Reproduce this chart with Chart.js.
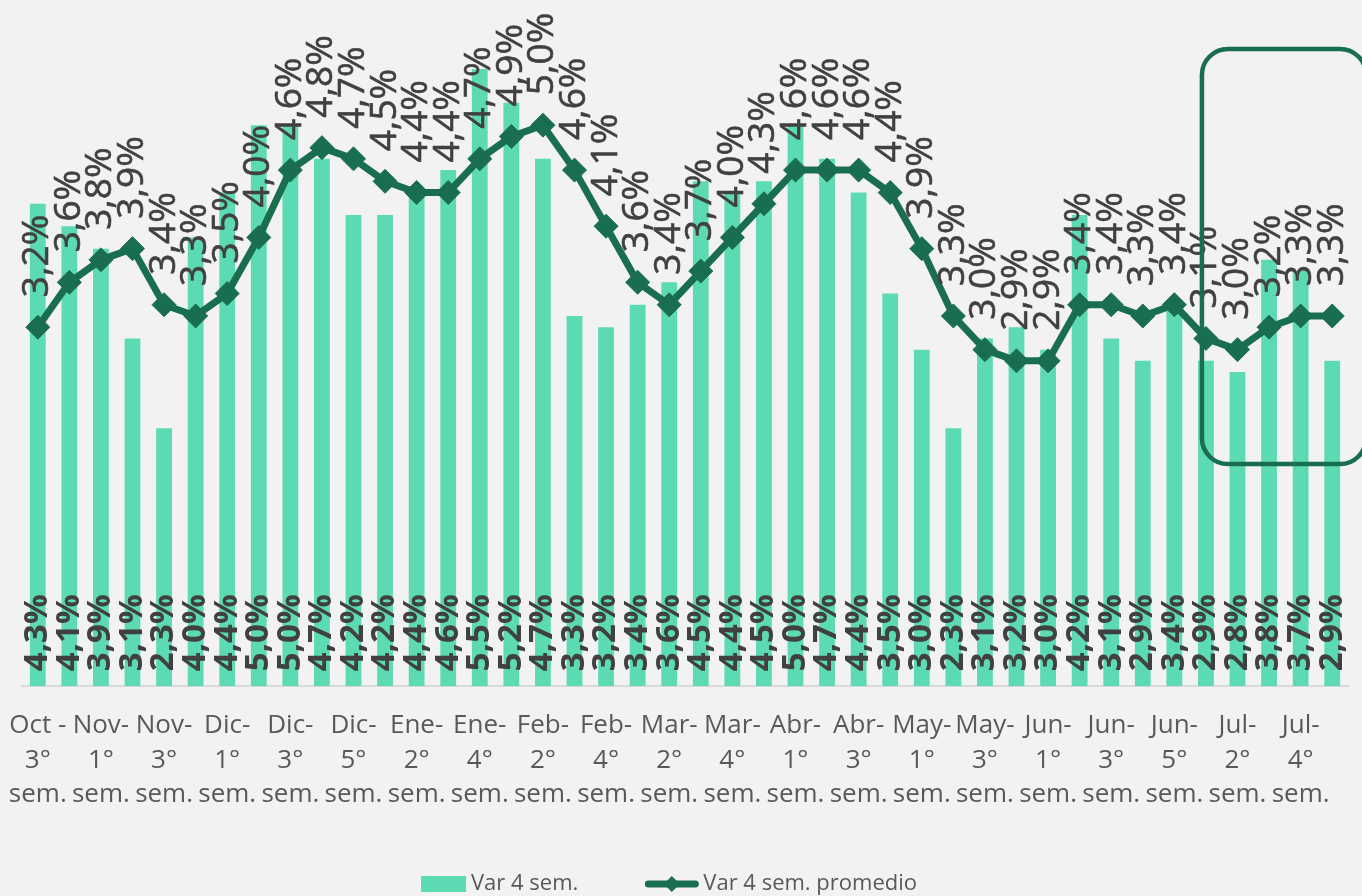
<!DOCTYPE html>
<html>
<head>
<meta charset="utf-8">
<script src="https://cdn.jsdelivr.net/npm/chart.js@4.4.1/dist/chart.umd.min.js"></script>
<style>
    html, body { margin: 0; padding: 0; background: #f2f2f2; }
    #wrap { width: 1362px; height: 896px; position: relative; }
</style>
</head>
<body>
<div id="wrap"><canvas id="chart"></canvas></div>
<script>
// weeks shown on the x axis (month, week, "sem.")
const categories = [
    ['Oct -', '3°', 'sem.'], ['Oct-', '4°', 'sem.'],
    ['Nov-', '1°', 'sem.'], ['Nov-', '2°', 'sem.'], ['Nov-', '3°', 'sem.'], ['Nov-', '4°', 'sem.'],
    ['Dic-', '1°', 'sem.'], ['Dic-', '2°', 'sem.'], ['Dic-', '3°', 'sem.'], ['Dic-', '4°', 'sem.'], ['Dic-', '5°', 'sem.'],
    ['Ene-', '1°', 'sem.'], ['Ene-', '2°', 'sem.'], ['Ene-', '3°', 'sem.'], ['Ene-', '4°', 'sem.'],
    ['Feb-', '1°', 'sem.'], ['Feb-', '2°', 'sem.'], ['Feb-', '3°', 'sem.'], ['Feb-', '4°', 'sem.'],
    ['Mar-', '1°', 'sem.'], ['Mar-', '2°', 'sem.'], ['Mar-', '3°', 'sem.'], ['Mar-', '4°', 'sem.'], ['Mar-', '5°', 'sem.'],
    ['Abr-', '1°', 'sem.'], ['Abr-', '2°', 'sem.'], ['Abr-', '3°', 'sem.'], ['Abr-', '4°', 'sem.'],
    ['May-', '1°', 'sem.'], ['May-', '2°', 'sem.'], ['May-', '3°', 'sem.'], ['May-', '4°', 'sem.'],
    ['Jun-', '1°', 'sem.'], ['Jun-', '2°', 'sem.'], ['Jun-', '3°', 'sem.'], ['Jun-', '4°', 'sem.'], ['Jun-', '5°', 'sem.'],
    ['Jul-', '1°', 'sem.'], ['Jul-', '2°', 'sem.'], ['Jul-', '3°', 'sem.'], ['Jul-', '4°', 'sem.'], ['Jul-', '5°', 'sem.']
];

// Var 4 sem. (bars)
const var4Sem = [4.3, 4.1, 3.9, 3.1, 2.3, 4.0, 4.4, 5.0, 5.0, 4.7, 4.2, 4.2, 4.4, 4.6, 5.5, 5.2, 4.7, 3.3, 3.2, 3.4, 3.6,
                 4.5, 4.4, 4.5, 5.0, 4.7, 4.4, 3.5, 3.0, 2.3, 3.1, 3.2, 3.0, 4.2, 3.1, 2.9, 3.4, 2.9, 2.8, 3.8, 3.7, 2.9];

// Var 4 sem. promedio (line)
const var4SemPromedio = [3.2, 3.6, 3.8, 3.9, 3.4, 3.3, 3.5, 4.0, 4.6, 4.8, 4.7, 4.5, 4.4, 4.4, 4.7, 4.9, 5.0, 4.6, 4.1, 3.6, 3.4,
                         3.7, 4.0, 4.3, 4.6, 4.6, 4.6, 4.4, 3.9, 3.3, 3.0, 2.9, 2.9, 3.4, 3.4, 3.3, 3.4, 3.1, 3.0, 3.2, 3.3, 3.3];

const seriesNames = ['Var 4 sem.', 'Var 4 sem. promedio'];

// highlighted last weeks (first index and value range of the box)
const highlightFrom = 37;
const highlightRange = [1.98, 5.68];

const barColor = '#5cdab3';
const lineColor = '#1a6e50';
const labelColor = '#404040';

function fmtPct(v) {
    return v.toFixed(1).replace('.', ',') + '%';
}

const valueLabels = {
    id: 'valueLabels',
    afterDatasetsDraw(chart) {
        const ctx = chart.ctx;
        const barMeta = chart.getDatasetMeta(0);
        const lineMeta = chart.getDatasetMeta(1);
        ctx.save();
        ctx.fillStyle = labelColor;
        ctx.strokeStyle = labelColor;
        ctx.textAlign = 'left';
        ctx.textBaseline = 'middle';

        // bar labels, inside base
        ctx.font = 'bold 33px "Open Sans"';
        barMeta.data.forEach((bar, i) => {
            ctx.save();
            ctx.translate(bar.x, bar.base - 15);
            ctx.rotate(-Math.PI / 2);
            ctx.fillText(fmtPct(var4Sem[i]), 0, 0);
            ctx.restore();
        });

        // line labels, above the points
        ctx.font = '37px "Open Sans"';
        ctx.lineWidth = 0.6;
        lineMeta.data.forEach((pt, i) => {
            ctx.save();
            ctx.translate(pt.x, pt.y - 30);
            ctx.rotate(-Math.PI / 2);
            ctx.fillText(fmtPct(var4SemPromedio[i]), 0, 0);
            ctx.strokeText(fmtPct(var4SemPromedio[i]), 0, 0);
            ctx.restore();
        });

        // highlight box round the last weeks
        const x = chart.scales.x, y = chart.scales.y;
        const left = x.getPixelForValue(highlightFrom) - 4;
        const top = y.getPixelForValue(highlightRange[1]);
        const bottom = y.getPixelForValue(highlightRange[0]);
        ctx.strokeStyle = lineColor;
        ctx.lineWidth = 4.5;
        ctx.beginPath();
        ctx.roundRect(left, top, chart.width + 4 - left, bottom - top, 26);
        ctx.stroke();
        ctx.restore();
    }
};

const bottomLegend = {
    id: 'bottomLegend',
    afterDraw(chart) {
        const ctx = chart.ctx;
        ctx.save();
        ctx.font = '22px "Open Sans"';
        ctx.textBaseline = 'middle';
        ctx.textAlign = 'left';
        const w1 = ctx.measureText(seriesNames[0]).width;
        const w2 = ctx.measureText(seriesNames[1]).width;
        const box = 45, lineSw = 53, gap = 5, spacing = 67;
        const total = box + gap + w1 + spacing + lineSw + gap + w2;
        let cx = chart.width / 2 - 12 - total / 2;
        const cy = 884;

        ctx.fillStyle = barColor;
        ctx.fillRect(cx, cy - 8, box, 16);
        cx += box + gap;
        ctx.fillStyle = '#595959';
        ctx.fillText(seriesNames[0], cx, cy);
        cx += w1 + spacing;

        ctx.strokeStyle = lineColor;
        ctx.lineWidth = 7;
        ctx.lineCap = 'round';
        ctx.beginPath();
        ctx.moveTo(cx + 3, cy);
        ctx.lineTo(cx + lineSw - 3, cy);
        ctx.stroke();
        ctx.fillStyle = lineColor;
        const mx = cx + lineSw / 2;
        ctx.beginPath();
        ctx.moveTo(mx - 8, cy); ctx.lineTo(mx, cy - 8); ctx.lineTo(mx + 8, cy); ctx.lineTo(mx, cy + 8);
        ctx.closePath();
        ctx.fill();
        cx += lineSw + gap;
        ctx.fillStyle = '#595959';
        ctx.fillText(seriesNames[1], cx, cy);
        ctx.restore();
    }
};

Chart.defaults.font.family = '"Open Sans"';

new Chart(document.getElementById('chart'), {
    type: 'bar',
    data: {
        labels: categories,
        datasets: [
            {
                type: 'bar',
                label: seriesNames[0],
                data: var4Sem,
                backgroundColor: barColor,
                barPercentage: 0.5,
                categoryPercentage: 1.0,
                order: 2
            },
            {
                type: 'line',
                label: seriesNames[1],
                data: var4SemPromedio,
                borderColor: lineColor,
                borderWidth: 7,
                borderJoinStyle: 'round',
                pointStyle: 'rectRot',
                pointRadius: 12,
                pointBorderWidth: 1,
                pointBackgroundColor: lineColor,
                pointBorderColor: lineColor,
                tension: 0,
                order: 1
            }
        ]
    },
    options: {
        responsive: true,
        maintainAspectRatio: false,
        animation: false,
        layout: { padding: { left: 22, right: 14, top: 11, bottom: 84 } },
        plugins: { legend: { display: false }, tooltip: { enabled: false } },
        scales: {
            x: {
                // invisible tick marks give the gap under the baseline
                grid: { display: true, drawOnChartArea: false, drawTicks: true, tickLength: 22, color: 'rgba(0,0,0,0)' },
                border: { display: true, color: '#d9d9d9', width: 2 },
                ticks: {
                    autoSkip: false,
                    maxRotation: 0,
                    minRotation: 0,
                    padding: 0,
                    color: '#595959',
                    font: { size: 26, lineHeight: 1.33 },
                    callback: function (value, index) {
                        return index % 2 === 0 ? categories[index] : '';
                    }
                }
            },
            y: { display: false, min: 0, max: 6 }
        }
    },
    plugins: [valueLabels, bottomLegend]
});
</script>
</body>
</html>
